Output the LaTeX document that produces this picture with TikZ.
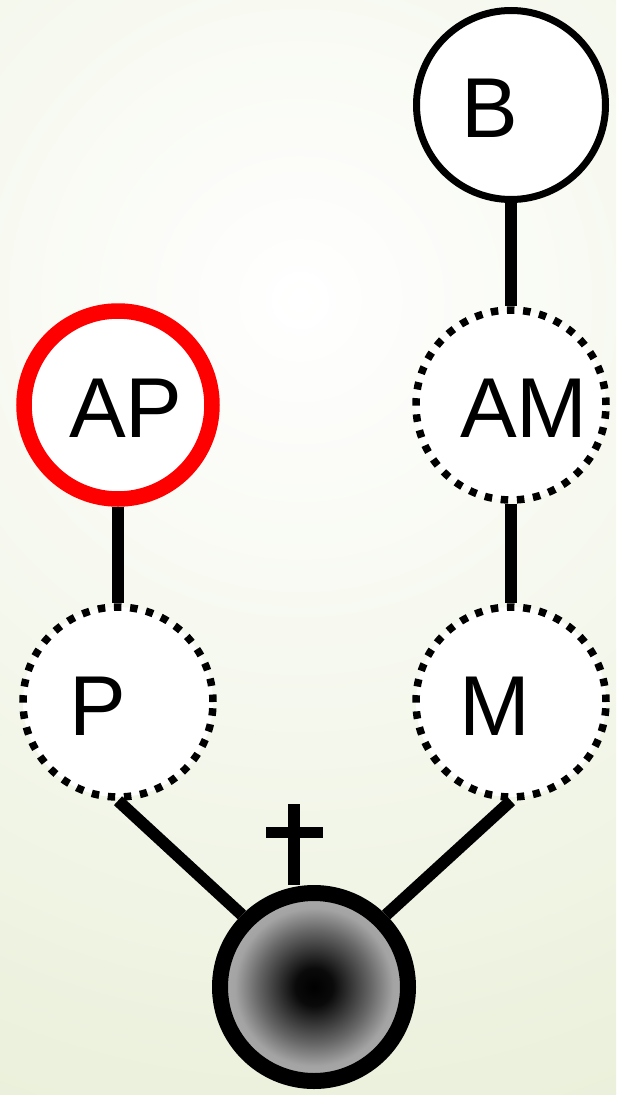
\documentclass[tikz,border=0pt]{standalone}
\usepackage{fontspec}
\setmainfont{Liberation Sans}
\definecolor{bgout}{RGB}{231,238,213}
\definecolor{apred}{RGB}{255,0,0}
\pgfdeclareradialshading{ballshade}{\pgfpoint{0bp}{0bp}}{color(0bp)=(black); color(5bp)=(black!96); color(15bp)=(black!60); color(21bp)=(black!36); color(25bp)=(black!33); color(50bp)=(black!33)}
\tikzset{
  person/.style={circle, minimum size=189pt, inner sep=0pt, fill=white, draw=black, line width=7pt},
  ghost/.style={circle, minimum size=190pt, inner sep=0pt, fill=white, draw=black, line width=7.5pt, dash pattern=on 7.5pt off 8.7pt},
  focus/.style={circle, minimum size=188pt, inner sep=0pt, fill=white, draw=apred, line width=15.5pt},
  dead/.style={circle, minimum size=188pt, inner sep=0pt, draw=black, line width=16pt, shading=ballshade},
  conn/.style={line width=12pt, line cap=butt},
  lbl/.style={anchor=base west, inner sep=0pt, font=\fontsize{85pt}{100pt}\selectfont}
}
\begin{document}
\begin{tikzpicture}[x=1pt, y=-1pt]
\useasboundingbox (0,0) rectangle (616,1095);
\begin{scope}
\clip (0,0) rectangle (616,1095);
\shade[inner color=white, outer color=bgout] (300,300) circle (980);
\end{scope}
% nodes
\node[person] (b) at (511,105) {};
\node[ghost] (am) at (511,405) {};
\node[focus] (ap) at (118,405) {};
\node[ghost] (p) at (118,702) {};
\node[ghost] (m) at (511,702) {};
\node[dead] (ball) at (314,987) {};
% labels
\node[lbl] (bl) at (461,137) {B};
\node[lbl] (aml) at (460,437) {AM};
\node[lbl] (apl) at (69,437) {AP};
\node[lbl] (pl) at (69,735) {P};
\node[lbl] (ml) at (459,735) {M};
% connectors
\draw[conn] (b) -- (am);
\draw[conn] (am) -- (m);
\draw[conn] (ap) -- (p);
\draw[conn] (p.south) -- (ball.135);
\draw[conn] (m.south) -- (ball.45);
% cross
\coordinate (crosstop) at (294,804);
\coordinate (crossl) at (266,832.5);
\coordinate (crossr) at (323,832.5);
\draw[conn] (crosstop) -- (crosstop |- ball.north);
\draw[line width=11pt] (crossl) -- (crossr);
\end{tikzpicture}
\end{document}
